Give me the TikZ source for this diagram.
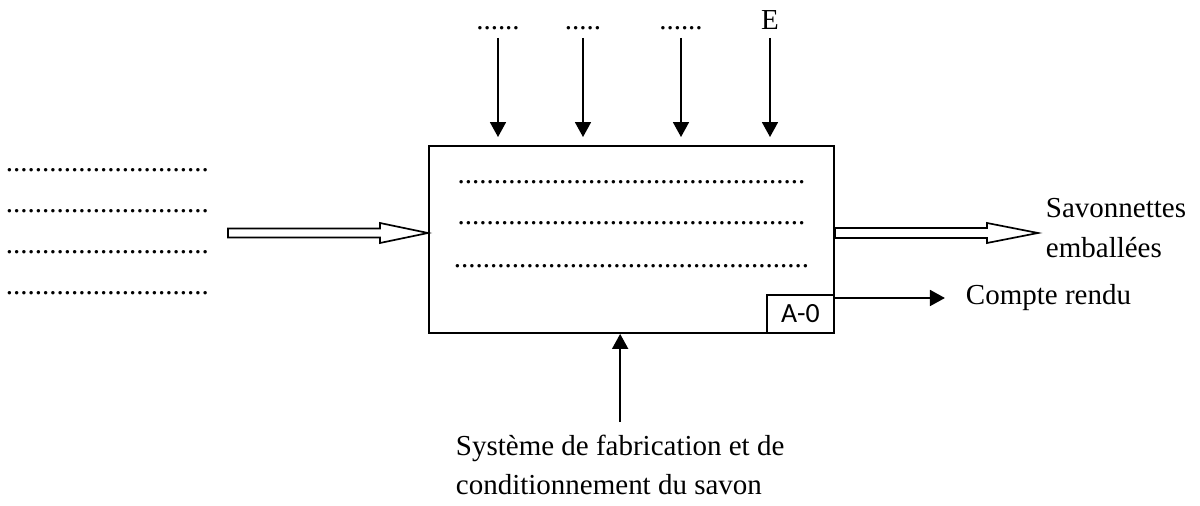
\documentclass[tikz,border=0pt]{standalone}
\usepackage{fontspec}
\setmainfont{Liberation Serif}
\newfontfamily\calibfont{Carlito}
\usetikzlibrary{arrows.meta,calc}
\def\pxu{0.414pt}
\newcommand\dotrow[1]{\foreach\k in {1,...,#1}{.}}

\begin{document}
\begin{tikzpicture}[x=\pxu, y=-\pxu, line width=0.8pt,
	txt/.style={inner sep=0, font=\fontsize{12}{15.7}\selectfont},
	flow/.style={-{Triangle[length=6.2pt,width=6.6pt]}},
	fat/.style={line width=0.7pt, fill=white}]
	\useasboundingbox (0,0) rectangle (1200,506);
	
	%% activity box A-0
	\node (box) [draw, anchor=north west, inner sep=0,
	minimum width=405*\pxu, minimum height=187*\pxu] at (428,145) {};
	\node (ref) [draw, anchor=south east, inner sep=0,
	font=\calibfont\fontsize{11.5}{13}\selectfont,
	minimum width=67*\pxu, minimum height=38*\pxu] at (box.south east) {A-0};
	
	%% dotted lines inside the box
	\node (l1) [txt] at (631.5,182) {\dotrow{48}};
	\node (l2) [txt] at (631.5,223) {\dotrow{48}};
	\node (l3) [txt] at (631.5,266) {\dotrow{49}};
	
	%% inputs (left)
	\foreach \y/\n in {170/a,211/b,252/c,293/d}
	\node (in\n) [txt, anchor=west] at (5,\y) {\dotrow{28}};
	\coordinate (src) at (228,233);
	\draw[fat] (src) ++(0,-4.5) -- ($(src -| box.west)+(-48,-4.5)$) -- ++(0,-5.5)
	-- (src -| box.west) -- ++(-48,10) -- ++(0,-5.5) -- ($(src)+(0,4.5)$) -- cycle;
	
	%% controls (top)
	\node (c1) [txt, anchor=base] at (498,30) {\dotrow{6}};
	\node (c2) [txt, anchor=base] at (583,30) {\dotrow{5}};
	\node (c3) [txt, anchor=base] at (681,30) {\dotrow{6}};
	\node (c4) [txt, anchor=base] at (770,30) {E};
	\foreach \c in {c1,c2,c3,c4}
	\draw[flow, shorten >=3.3pt] (\c.base) ++(0,8) -- (\c.base |- box.north);
	
	%% outputs (right)
	\node (sav) [txt, anchor=north west, align=left,
	font=\fontsize{12}{16.5}\selectfont] at (1045,197)
	{Savonnettes\\emballées};
	\coordinate (dst) at (1038,233);
	\draw[fat] (dst -| box.east) ++(0,-5) -- ($(dst)+(-51,-5)$) -- ++(0,-5)
	-- (dst) -- ++(-51,10) -- ++(0,-5) -- ($(dst -| box.east)+(0,5)$) -- cycle;
	\node (cr) [txt, anchor=west] at (965,298) {Compte rendu};
	\draw[flow, shorten >=8.3pt] (cr.west -| box.east) -- (cr.west);
	
	%% mechanism (bottom)
	\node (sys) [txt, anchor=north west, align=left,
	font=\fontsize{12}{16}\selectfont] at (455,434)
	{Système de fabrication et de\\conditionnement du savon};
	\draw[flow, shorten <=4.9pt] (sys.north) -- (sys.north |- box.south);
	
\end{tikzpicture}
\end{document}
